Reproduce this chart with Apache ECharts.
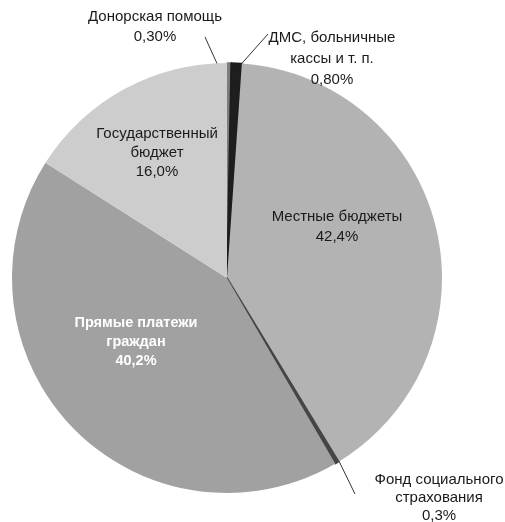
<!DOCTYPE html>
<html>
<head>
<meta charset="utf-8">
<script src="https://cdn.jsdelivr.net/npm/echarts@6/dist/echarts.min.js"></script>
<style>
  html, body { margin: 0; padding: 0; background: #fff; }
  #chart { width: 505px; height: 522px; }
</style>
</head>
<body>
<div id="chart"></div>
<script>
// источники финансирования, по часовой стрелке от 12 часов
var sliceNames = ['Донорская помощь', 'ДМС, больничные кассы и т. п.', 'Местные бюджеты',
    'Фонд социального страхования', 'Прямые платежи граждан', 'Государственный бюджет'];
var labelNames = ['Донорская помощь', 'ДМС, больничные\nкассы и т. п.', 'Местные бюджеты',
    'Фонд социального\nстрахования', 'Прямые платежи\nграждан', 'Государственный\nбюджет'];
// размеры секторов (подписи в оригинале стоят как есть)
var shares = [0.3, 0.8, 40.2, 0.3, 42.4, 16.0];
var shareLabels = ['0,30%', '0,80%', '42,4%', '0,3%', '40,2%', '16,0%'];
var sliceColors = ['#7e7e7e', '#1e1e1e', '#b3b3b3', '#454545', '#a1a1a1', '#cdcdcd'];

// положение подписей и выносок (в пикселях)
var labelPos = [
    { x: 155, y: 27, line: [[205, 37], [205, 37], [229, 90]] },
    { x: 332, y: 59, line: [[268, 34], [268, 34], [236, 70]] },
    { x: 337, y: 227 },
    { x: 439, y: 498, line: [[355, 494], [355, 494], [337, 457]] },
    { x: 136, y: 342 },
    { x: 157, y: 153 }
];
var lineHeights = [20, 21, 20, 18, 19, 19];

var chart = echarts.init(document.getElementById('chart'));

var data = shares.map(function (v, i) {
    var bold = i === 4;
    var thin = v < 1;
    return {
        name: sliceNames[i],
        value: v,
        // узкие секторы обводим своим же цветом, чтобы были видны как полоски
        itemStyle: {
            color: sliceColors[i],
            borderColor: sliceColors[i],
            borderWidth: thin ? 1.5 : 0
        },
        label: {
            formatter: labelNames[i] + '\n' + shareLabels[i],
            color: bold ? '#ffffff' : '#1a1a1a',
            fontWeight: bold ? 'bold' : 'normal',
            fontSize: bold ? 14.5 : 15,
            lineHeight: lineHeights[i]
        },
        labelLine: { show: !!labelPos[i].line }
    };
});

chart.setOption({
    animation: false,
    series: [{
        type: 'pie',
        center: [227, 278],
        radius: 215,
        startAngle: 90,
        clockwise: true,
        avoidLabelOverlap: false,
        label: {
            show: true,
            position: 'outside',
            fontFamily: 'Liberation Sans, Arial, sans-serif',
            fontSize: 15,
            align: 'center'
        },
        labelLine: {
            show: true,
            lineStyle: { color: '#333333', width: 1 }
        },
        labelLayout: function (params) {
            var p = labelPos[params.dataIndex];
            var out = { x: p.x, y: p.y, align: 'center', verticalAlign: 'middle' };
            if (p.line) {
                out.labelLinePoints = p.line;
            }
            return out;
        },
        emphasis: { disabled: true },
        data: data
    }]
});
</script>
</body>
</html>
